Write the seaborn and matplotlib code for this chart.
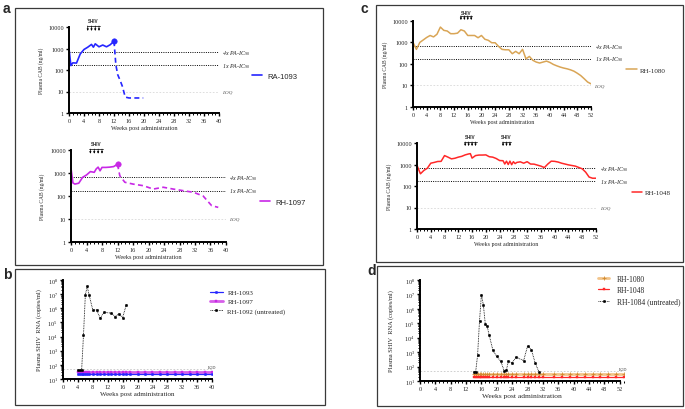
# CAB plasma levels and SHIV RNA after challenge, four panels
import numpy as np
import matplotlib
matplotlib.use('Agg')
import matplotlib.pyplot as plt
from matplotlib.patches import Rectangle
from matplotlib.ticker import (FixedLocator, FixedFormatter, NullLocator,
                               MultipleLocator, LogLocator, NullFormatter,
                               LogFormatterSciNotation)
import seaborn as sns

sns.set_style('ticks')
plt.rcParams['font.family'] = ['Liberation Serif', 'DejaVu Serif']
plt.rcParams['mathtext.fontset'] = 'custom'
plt.rcParams['mathtext.rm'] = 'Liberation Serif'
plt.rcParams['mathtext.it'] = 'Liberation Serif:italic'

# ---- data ----
PA_IC90 = 166   # ng/ml
LOQ = 10        # ng/ml
LOD = 50        # copies/ml

# panel a, RA-1093
ra1093_wk = [0, 0.5, 1, 2, 3, 4, 5, 6, 6.5, 7, 8, 9, 10, 11, 12]
ra1093_cab = [1000, 160, 215, 210, 560, 900, 1150, 1550, 1150, 1650, 1200, 1450, 1200, 1500, 2200]
ra1093_tail_wk = [12, 12.5, 13, 13.6, 14.2, 15, 16, 18, 19.8]
ra1093_tail = [2200, 170, 60, 34, 18, 5.5, 5, 5, 5]

# panel a, RH-1097
rh1097_wk = [0, 0.5, 1, 2, 3, 4, 5, 6, 6.5, 7, 7.5, 8, 9, 10, 11, 12]
rh1097_cab = [1600, 370, 330, 360, 650, 820, 1150, 1070, 1500, 1800, 1250, 1750, 1750, 1800, 1900, 2400]
rh1097_tail_wk = [12, 12.6, 13.9, 16, 18.7, 21.2, 23.8, 26.4, 29, 31.6, 34.1, 36.3, 38]
rh1097_tail = [2400, 760, 395, 330, 280, 200, 240, 200, 170, 145, 100, 38, 32]

# panel c, RH-1080
rh1080_wk = np.arange(0, 53)
rh1080_cab = [1000, 470, 1000, 1300, 1700, 2100, 1800, 2400, 5200, 3650, 3400, 2550, 2550,
              2700, 3900, 3400, 2100, 2100, 2100, 1650, 2100, 1400, 1250, 960, 960, 650,
              470, 450, 450, 295, 380, 295, 470, 170, 220, 145, 120, 108, 120, 133, 115,
              93, 80, 70, 63, 58, 52, 45, 36, 28, 20, 14, 11.5]

# panel c, RH-1048
rh1048_wk = [0, 1, 2, 3, 4, 5, 6, 7, 8, 9, 10, 11, 12, 13, 14, 15, 15.5, 16, 17, 18, 19,
             20, 21, 22, 23, 24, 25, 25.5, 26, 26.5, 27, 27.5, 28, 28.5, 29, 30, 31, 32,
             33, 34, 36, 37, 38, 39, 40, 41, 42, 44, 46, 48, 49, 50, 51, 52]
rh1048_cab = [900, 370, 530, 670, 1150, 1250, 1380, 1400, 2600, 2200, 1830, 1950, 2200,
              2400, 2800, 3100, 3200, 1980, 2600, 2750, 2750, 2800, 2300, 2200, 1900,
              1530, 1500, 1050, 1430, 1000, 1430, 980, 1350, 1100, 1250, 1330, 1150, 1350,
              1050, 1040, 840, 720, 1050, 1430, 1400, 1300, 1150, 960, 840, 630, 440, 260,
              230, 230]

# SHIV challenge weeks
shiv_a = [5, 6, 7, 8]
shiv_c1 = [14, 15, 16, 17]
shiv_c2 = [25, 26, 27]

# panel b, viral RNA
b_wk = [4, 4.5, 5, 5.5, 6, 6.5, 7, 8, 9, 10, 11, 12, 13, 14, 15, 16, 17, 18, 20, 22,
        24, 26, 28, 30, 32, 34, 36, 38, 40]
b_rh1093 = [24, 24, 24, 24, 24, 24, 24, 24, 24, 24, 24, 24, 24, 24, 24, 24, 24, 24, 24,
            24, 24, 24, 24, 24, 24, 24, 24, 24, 24]
b_rh1097 = [29, 29, 29, 29, 29, 29, 29, 29, 29, 29, 29, 29, 29, 29, 29, 29, 29, 29, 29,
            29, 29, 29, 29, 29, 29, 29, 29, 29, 29]
rh1092_wk = [4, 4.5, 5, 5.5, 6, 6.5, 7, 8, 9, 10, 11, 13, 14, 15, 16, 17]
rh1092_rna = [42, 42, 42, 1.3e4, 9e6, 3.5e7, 9e6, 7.6e5, 7.6e5, 2e5, 5.2e5, 4.5e5,
              2.6e5, 4e5, 2.2e5, 1.8e6]

# panel d, viral RNA
d_wk = [14, 14.5, 15, 15.5, 16, 16.5, 17, 17.5, 18, 19, 20, 21, 22, 22.5, 23, 24, 25,
        27, 28, 29, 30, 31, 32, 35, 37, 39, 41, 43, 45, 47, 49, 51, 53]
d_rh1080 = [32, 32, 32, 32, 32, 32, 32, 32, 32, 32, 32, 32, 32, 32, 32, 32, 32, 32, 32,
            32, 32, 32, 32, 32, 32, 32, 32, 32, 32, 32, 32, 32, 32]
d_rh1048 = [20, 20, 20, 20, 20, 20, 20, 20, 20, 20, 20, 20, 20, 20, 20, 20, 20, 20, 20,
            20, 20, 20, 20, 20, 20, 20, 20, 20, 20, 20, 20, 20, 20]
rh1084_wk = [14, 14.5, 15, 15.5, 16, 16.5, 17, 17.5, 18, 19, 20, 21, 22, 22.5, 23, 24,
             25, 27, 28, 29, 30, 31]
rh1084_rna = [44, 44, 620, 1.5e5, 9.7e6, 1.9e6, 9e4, 6e4, 1.6e4, 1300, 500, 240, 46, 57,
              225, 180, 450, 260, 2600, 1500, 175, 42]

BLUE = '#2626ff'
MAGENTA = '#c828e6'
TAN = '#d9a556'
RED = '#ff2828'

W, H = 685, 410
fig = plt.figure(figsize=(W / 100, H / 100), dpi=100)


def px_axes(l, t, r, b):
    return fig.add_axes([l / W, 1 - b / H, (r - l) / W, (b - t) / H])


def px_box(l, t, r, b):
    fig.add_artist(Rectangle((l / W, 1 - b / H), (r - l) / W, (b - t) / H,
                             transform=fig.transFigure, fill=False,
                             edgecolor='#3a3a3a', linewidth=0.9))


def px_legend(ax, x, y, size, family='Liberation Serif', hl=1.5, tp=0.6, ls=0.4):
    ax.legend(loc='center left', bbox_to_anchor=(x / W, 1 - y / H),
              bbox_transform=fig.transFigure, frameon=False, borderpad=0,
              borderaxespad=0, handlelength=hl, handletextpad=tp, labelspacing=ls,
              prop={'family': family, 'size': size})


def base_axes(ax, xmax, xspan=None):
    ax.set_xlim(0, xmax)
    ax.xaxis.set_major_locator(MultipleLocator(4))
    ax.xaxis.set_minor_locator(MultipleLocator(1))
    sns.despine(ax=ax)
    for s in ['left', 'bottom']:
        ax.spines[s].set_linewidth(1.4)
        ax.spines[s].set_color('k')
    if xspan is not None:
        ax.spines['bottom'].set_bounds(0, xspan)
        ax.set_xticks(range(0, xspan + 1, 4))
    ax.tick_params(which='major', length=2.5, width=1, labelsize=4.5, pad=1.2, color='k')
    ax.tick_params(which='minor', length=1.5, width=0.7, color='k')


def cab_axes(ax, xmax, ylab_x, xlab_size=4.5):
    ax.set_yscale('log')
    ax.set_ylim(1, 10000)
    base_axes(ax, xmax)
    ax.yaxis.set_major_locator(FixedLocator([1, 10, 100, 1000, 10000]))
    ax.yaxis.set_major_formatter(FixedFormatter(['1', '10', '100', '1000', '10000']))
    ax.yaxis.set_minor_locator(NullLocator())
    ax.set_xlabel('Weeks post administration', fontsize=xlab_size, labelpad=1.5)
    ax.set_ylabel('Plasma CAB (ng/ml)', fontsize=4)
    ax.yaxis.set_label_coords(ylab_x, 0.5)
    ax.axhline(4 * PA_IC90, color='k', lw=0.7, ls=(0, (1, 1.3)))
    ax.axhline(PA_IC90, color='k', lw=0.7, ls=(0, (1, 1.3)))
    ax.axhline(LOQ, color='#d8d8d8', lw=0.6, ls=(0, (2, 2)))
    tr = ax.get_yaxis_transform()
    ax.text(1.02, 4 * PA_IC90, '4x PA-IC$_{90}$', transform=tr, fontsize=4.3,
            style='italic', va='center', ha='left')
    ax.text(1.02, PA_IC90, '1x PA-IC$_{90}$', transform=tr, fontsize=4.3,
            style='italic', va='center', ha='left')
    ax.text(1.02, LOQ, 'LOQ', transform=tr, fontsize=3.8, style='italic',
            color='#555555', va='center', ha='left')


def shiv(ax, weeks, text_y, top_y, bot_y):
    tr = ax.get_xaxis_transform()
    ax.text(np.mean(weeks), text_y, 'SHIV', transform=tr, ha='center', va='center',
            fontsize=3.3, fontweight='bold', family='Liberation Sans')
    for w in weeks:
        ax.annotate('', xy=(w, bot_y), xytext=(w, top_y), xycoords=tr, textcoords=tr,
                    arrowprops=dict(arrowstyle='-|>', lw=0.5, color='k',
                                    mutation_scale=2.5, shrinkA=0, shrinkB=0),
                    annotation_clip=False)
    ax.plot([weeks[0] - 0.3, weeks[-1] + 0.3], [top_y, top_y], transform=tr,
            color='k', lw=0.5, clip_on=False)


def rna_axes(ax, xmax, xspan, ylab_x, xlab_size):
    ax.set_yscale('log')
    ax.set_ylim(10, 1e8)
    base_axes(ax, xmax, xspan)
    ax.yaxis.set_major_locator(LogLocator(base=10, numticks=20))
    ax.yaxis.set_major_formatter(LogFormatterSciNotation())
    ax.yaxis.set_minor_locator(LogLocator(base=10, subs=range(2, 10), numticks=100))
    ax.yaxis.set_minor_formatter(NullFormatter())
    ax.set_xlabel('Weeks post administration', fontsize=xlab_size, labelpad=1.5)
    ax.set_ylabel('Plasma SHIV  RNA (copies/ml)', fontsize=4.6)
    ax.yaxis.set_label_coords(ylab_x, 0.5)
    ax.axhline(LOD, color='#c8c8c8', lw=0.6, ls=(0, (2, 2)))
    ax.text(1.0, LOD, 'LOD', transform=ax.get_yaxis_transform(), fontsize=3,
            va='bottom', ha='center')


# ---- panel boxes and letters ----
px_box(15, 9, 323, 266)
px_box(15, 270, 325, 406)
px_box(376, 6, 683, 263)
px_box(377, 267, 683, 407)
for lx, ly, lt in [(3, 9, 'a'), (3, 275, 'b'), (361, 9, 'c'), (367, 271, 'd')]:
    fig.text(lx / W, 1 - ly / H, lt, fontsize=10, fontweight='bold',
             family='Liberation Sans', ha='left', va='center')

# ---- panel a ----
ax_a1 = px_axes(69, 28, 219, 114)
cab_axes(ax_a1, 40, -0.17)
sns.lineplot(x=ra1093_wk, y=ra1093_cab, ax=ax_a1, color=BLUE, linewidth=1.2, label='RA-1093')
sns.lineplot(x=ra1093_tail_wk, y=ra1093_tail, ax=ax_a1, color=BLUE, linewidth=1.2,
             linestyle=(0, (3, 2)))
sns.scatterplot(x=[ra1093_wk[-1]], y=[ra1093_cab[-1]], ax=ax_a1, color=BLUE, s=16,
                edgecolor=BLUE, zorder=5)
shiv(ax_a1, shiv_a, 1.075, 1.012, 0.955)
px_legend(ax_a1, 252, 77, 5.5, family='Liberation Sans', hl=1.3, tp=0.65)

ax_a2 = px_axes(71, 151, 226, 243)
cab_axes(ax_a2, 40, -0.17)
sns.lineplot(x=rh1097_wk, y=rh1097_cab, ax=ax_a2, color=MAGENTA, linewidth=1.2, label='RH-1097')
sns.lineplot(x=rh1097_tail_wk, y=rh1097_tail, ax=ax_a2, color=MAGENTA, linewidth=1.2,
             linestyle=(0, (3, 2)))
sns.scatterplot(x=[rh1097_wk[-1]], y=[rh1097_cab[-1]], ax=ax_a2, color=MAGENTA, s=16,
                edgecolor=MAGENTA, zorder=5)
shiv(ax_a2, shiv_a, 1.07, 1.01, 0.96)
px_legend(ax_a2, 260, 203, 5.5, family='Liberation Sans', hl=1.3, tp=0.65)

# ---- panel b ----
ax_b = px_axes(63, 281, 212, 380)
rna_axes(ax_b, 40, 40, -0.14, 5)
sns.lineplot(x=b_wk, y=b_rh1093, ax=ax_b, color=BLUE, linewidth=0.9, marker='o',
             markersize=1.8, markerfacecolor=BLUE, markeredgecolor=BLUE,
             markeredgewidth=0.3, label='RH-1093', zorder=4)
sns.lineplot(x=b_wk, y=b_rh1097, ax=ax_b, color='#d65ee8', linewidth=2.0, marker='s',
             markersize=1.8, markerfacecolor=MAGENTA, markeredgecolor=MAGENTA,
             markeredgewidth=0.3, label='RH-1097', zorder=3)
sns.lineplot(x=rh1092_wk, y=rh1092_rna, ax=ax_b, color='k', linewidth=0.6,
             linestyle=(0, (1, 1)), marker='o', markersize=1.8, markerfacecolor='k',
             markeredgecolor='k', markeredgewidth=0.3, label='RH-1092 (untreated)', zorder=5)
px_legend(ax_b, 210, 302.5, 5, hl=1.8, tp=0.7, ls=0.45)

# ---- panel c ----
ax_c1 = px_axes(413, 22, 591, 107.5)
cab_axes(ax_c1, 52, -0.14, xlab_size=4.3)
sns.lineplot(x=rh1080_wk, y=rh1080_cab, ax=ax_c1, color=TAN, linewidth=1.1, label='RH-1080')
shiv(ax_c1, shiv_c1, 1.105, 1.06, 1.012)
px_legend(ax_c1, 626, 71, 5, hl=1.6, tp=0.45)

ax_c2 = px_axes(417, 144, 596, 230)
cab_axes(ax_c2, 52, -0.14, xlab_size=4.3)
sns.lineplot(x=rh1048_wk, y=rh1048_cab, ax=ax_c2, color=RED, linewidth=1.1, label='RH-1048')
shiv(ax_c2, shiv_c1, 1.07, 1.012, 0.965)
shiv(ax_c2, shiv_c2, 1.07, 1.012, 0.965)
px_legend(ax_c2, 632, 193, 5, hl=1.4, tp=0.45)

# ---- panel d ----
ax_d = px_axes(420, 281, 623.5, 382)
rna_axes(ax_d, 53, 52, -0.13, 5.4)
sns.lineplot(x=d_wk, y=d_rh1080, ax=ax_d, color='#f2c48a', linewidth=2.0, marker='+',
             markersize=2.5, markeredgecolor='#d08a30', markeredgewidth=0.6,
             label='RH-1080', zorder=3)
sns.lineplot(x=d_wk, y=d_rh1048, ax=ax_d, color=RED, linewidth=0.9, marker='s',
             markersize=1.8, markerfacecolor=RED, markeredgecolor=RED,
             markeredgewidth=0.3, label='RH-1048', zorder=4)
sns.lineplot(x=rh1084_wk, y=rh1084_rna, ax=ax_d, color='k', linewidth=0.6,
             linestyle=(0, (1, 1)), marker='o', markersize=1.8, markerfacecolor='k',
             markeredgecolor='k', markeredgewidth=0.3, label='RH-1084 (untreated)', zorder=5)
px_legend(ax_d, 598, 291, 5.5, hl=1.5, tp=1.0, ls=0.45)

fig.savefig('out.png', dpi=100)
